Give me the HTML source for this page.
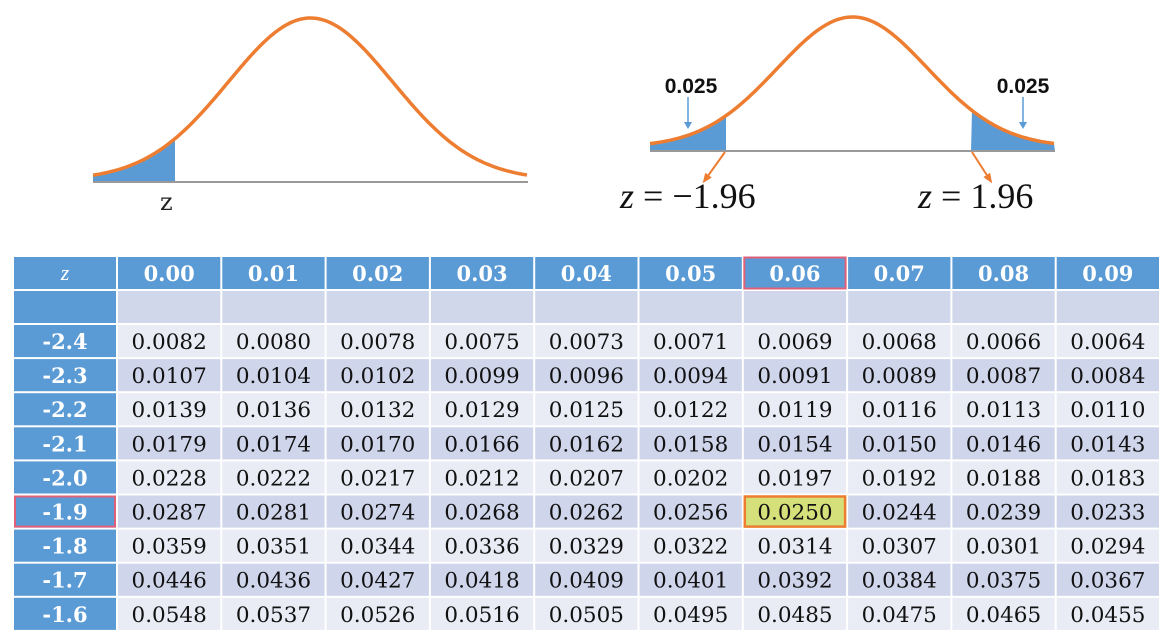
<!DOCTYPE html>
<html><head><meta charset="utf-8"><style>
html,body{margin:0;padding:0;background:#fff;width:1171px;height:635px;overflow:hidden}
svg{display:block}
</style></head><body>
<svg id="root" width="1171" height="635" viewBox="0 0 1171 635">
<g id="curves"></g>
<g id="table"></g>
</svg>
<script>
const colHeaders = ["0.00","0.01","0.02","0.03","0.04","0.05","0.06","0.07","0.08","0.09"];
const rowHeaders = ["-2.4","-2.3","-2.2","-2.1","-2.0","-1.9","-1.8","-1.7","-1.6"];
const row_m24 = ["0.0082","0.0080","0.0078","0.0075","0.0073","0.0071","0.0069","0.0068","0.0066","0.0064"];
const row_m23 = ["0.0107","0.0104","0.0102","0.0099","0.0096","0.0094","0.0091","0.0089","0.0087","0.0084"];
const row_m22 = ["0.0139","0.0136","0.0132","0.0129","0.0125","0.0122","0.0119","0.0116","0.0113","0.0110"];
const row_m21 = ["0.0179","0.0174","0.0170","0.0166","0.0162","0.0158","0.0154","0.0150","0.0146","0.0143"];
const row_m20 = ["0.0228","0.0222","0.0217","0.0212","0.0207","0.0202","0.0197","0.0192","0.0188","0.0183"];
const row_m19 = ["0.0287","0.0281","0.0274","0.0268","0.0262","0.0256","0.0250","0.0244","0.0239","0.0233"];
const row_m18 = ["0.0359","0.0351","0.0344","0.0336","0.0329","0.0322","0.0314","0.0307","0.0301","0.0294"];
const row_m17 = ["0.0446","0.0436","0.0427","0.0418","0.0409","0.0401","0.0392","0.0384","0.0375","0.0367"];
const row_m16 = ["0.0548","0.0537","0.0526","0.0516","0.0505","0.0495","0.0485","0.0475","0.0465","0.0455"];
const rows = [row_m24,row_m23,row_m22,row_m21,row_m20,row_m19,row_m18,row_m17,row_m16];
const hiRow = 5, hiCol = 6;
const NS="http://www.w3.org/2000/svg";
function mk(tag,attrs,parent){const e=document.createElementNS(NS,tag);for(const k in attrs)e.setAttribute(k,attrs[k]);parent.appendChild(e);return e;}
const T=document.getElementById('table');
const x0=14, zW=102, cx0=118, cW=104.3, hdrY=257, hdrH=32, blankY=291, rowY0=325, rH=34.1;
const colX=i=>cx0+i*cW;
const rowY=r=>rowY0+r*rH;
mk('rect',{x:x0,y:hdrY,width:1146,height:375,fill:'#fff'},T);
let e=mk('rect',{x:x0,y:hdrY,width:zW,height:hdrH,fill:'#5b9bd5'},T);

e=mk('text',{x:x0+zW/2,y:hdrY+23,'text-anchor':'middle','font-family':'Liberation Serif, serif','font-style':'italic','font-size':22,fill:'#fff'},T);e.textContent='z';

colHeaders.forEach((h,i)=>{
 let r=mk('rect',{x:colX(i),y:hdrY,width:cW-2,height:hdrH,fill:'#5b9bd5'},T);
 
 let t=mk('text',{x:colX(i)+(cW-2)/2,y:hdrY+24,'text-anchor':'middle','font-family':'DejaVu Serif, serif','font-weight':'bold','font-size':21,fill:'#fff'},T);t.textContent=h;
 
 if(i===hiCol){let b=mk('rect',{x:colX(i)+0.5,y:hdrY+0.5,width:cW-3,height:hdrH-1,fill:'none',stroke:'#e0607a','stroke-width':2},T);
 }
});
e=mk('rect',{x:x0,y:blankY,width:zW,height:32,fill:'#5b9bd5'},T);

for(let i=0;i<10;i++){let r=mk('rect',{x:colX(i),y:blankY,width:cW-2,height:32,fill:'#d0d7ea'},T);
 }
rows.forEach((vals,r)=>{
 const y=rowY(r), h=rH-2;
 let z=mk('rect',{x:x0,y:y,width:zW,height:h,fill:'#5b9bd5'},T);
 
 let zt=mk('text',{x:x0+zW/2,y:y+24,'text-anchor':'middle','font-family':'DejaVu Serif, serif','font-weight':'bold','font-size':21,fill:'#fff'},T);zt.textContent=rowHeaders[r];
 
 if(r===hiRow){let b=mk('rect',{x:x0+1,y:y+1,width:zW-2,height:h-2,fill:'none',stroke:'#e0607a','stroke-width':2},T);
  }
 vals.forEach((v,i)=>{
  const hi=(r===hiRow&&i===hiCol);
  let c=mk('rect',{x:colX(i),y:y,width:cW-2,height:h,fill:hi?'#d6e07a':(r%2===0?'#e9ebf5':'#cfd5ea')},T);
  
  if(hi){let b=mk('rect',{x:colX(i)+1,y:y+1,width:cW-4,height:h-2,fill:'none',stroke:'#ed7d31','stroke-width':2.5},T);
   }
  let t=mk('text',{x:colX(i)+(cW-2)/2,y:y+24,'text-anchor':'middle','font-family':'DejaVu Serif, serif','font-size':21.5,fill:'#111'},T);t.textContent=v;
  
 });
});
const C=document.getElementById('curves');
function bell(xl,xr,base,peak,sd){const pts=[];const mid=(xl+xr)/2;for(let x=xl;x<=xr;x+=2){const u=(x-mid)/sd;pts.push([x,base-(base-peak)*Math.exp(-u*u/2)]);}return pts;}
function pathOf(p){return 'M'+p.map(q=>q[0].toFixed(1)+','+q[1].toFixed(1)).join('L');}
let L=bell(93,528,180,18,82);
let sh=L.filter(q=>q[0]<=175);
e=mk('path',{d:pathOf(sh)+'L175,182L93,182Z',fill:'#5b9bd5'},C);
e=mk('line',{x1:93,y1:182,x2:528,y2:182,stroke:'#999','stroke-width':2},C);
e=mk('path',{d:pathOf(L),fill:'none',stroke:'#ed7d31','stroke-width':3.5},C);
e=mk('text',{x:160,y:210,'font-family':'DejaVu Serif, serif','font-size':24,fill:'#222'},C);e.textContent='z';
let R=bell(650,1055,147,17,75);
e=mk('path',{d:pathOf(R.filter(q=>q[0]<=726))+'L726,151L650,151Z',fill:'#5b9bd5'},C);
e=mk('path',{d:pathOf(R.filter(q=>q[0]>=971))+'L1055,151L971,151Z',fill:'#5b9bd5'},C);
e=mk('line',{x1:650,y1:151,x2:1055,y2:151,stroke:'#999','stroke-width':2},C);
e=mk('path',{d:pathOf(R),fill:'none',stroke:'#ed7d31','stroke-width':3.5},C);
[[688,97],[1023,97]].forEach((p,i)=>{
 let a=mk('line',{x1:p[0],y1:p[1],x2:p[0],y2:p[1]+26,stroke:'#5b9bd5','stroke-width':1.5},C);
 let h=mk('path',{d:`M${p[0]-4},${p[1]+25}L${p[0]+4},${p[1]+25}L${p[0]},${p[1]+32}Z`,fill:'#5b9bd5'},C);
 let t=mk('text',{x:i?1023:691,y:93,'text-anchor':'middle','font-family':'Liberation Sans, sans-serif','font-weight':'bold','font-size':21,fill:'#111'},C);t.textContent='0.025';
 
});
[[725,152,705,180],[972,152,990,180]].forEach(a=>{
 let l=mk('line',{x1:a[0],y1:a[1],x2:a[2],y2:a[3],stroke:'#ed7d31','stroke-width':2},C);
 const dx=a[2]-a[0],dy=a[3]-a[1],L2=Math.hypot(dx,dy),ux=dx/L2,uy=dy/L2;
 let h=mk('path',{d:`M${a[2]+ux*4},${a[3]+uy*4}L${a[2]-ux*6-uy*4},${a[3]-uy*6+ux*4}L${a[2]-ux*6+uy*4},${a[3]-uy*6-ux*4}Z`,fill:'#ed7d31'},C);
 
});
e=mk('text',{x:620,y:208,'font-family':'Liberation Serif, serif','font-size':36,fill:'#111'},C);e.innerHTML='<tspan font-style="italic">z</tspan> = −1.96';
e=mk('text',{x:918,y:208,'font-family':'Liberation Serif, serif','font-size':36,fill:'#111'},C);e.innerHTML='<tspan font-style="italic">z</tspan> = 1.96';
</script>
</body></html>
